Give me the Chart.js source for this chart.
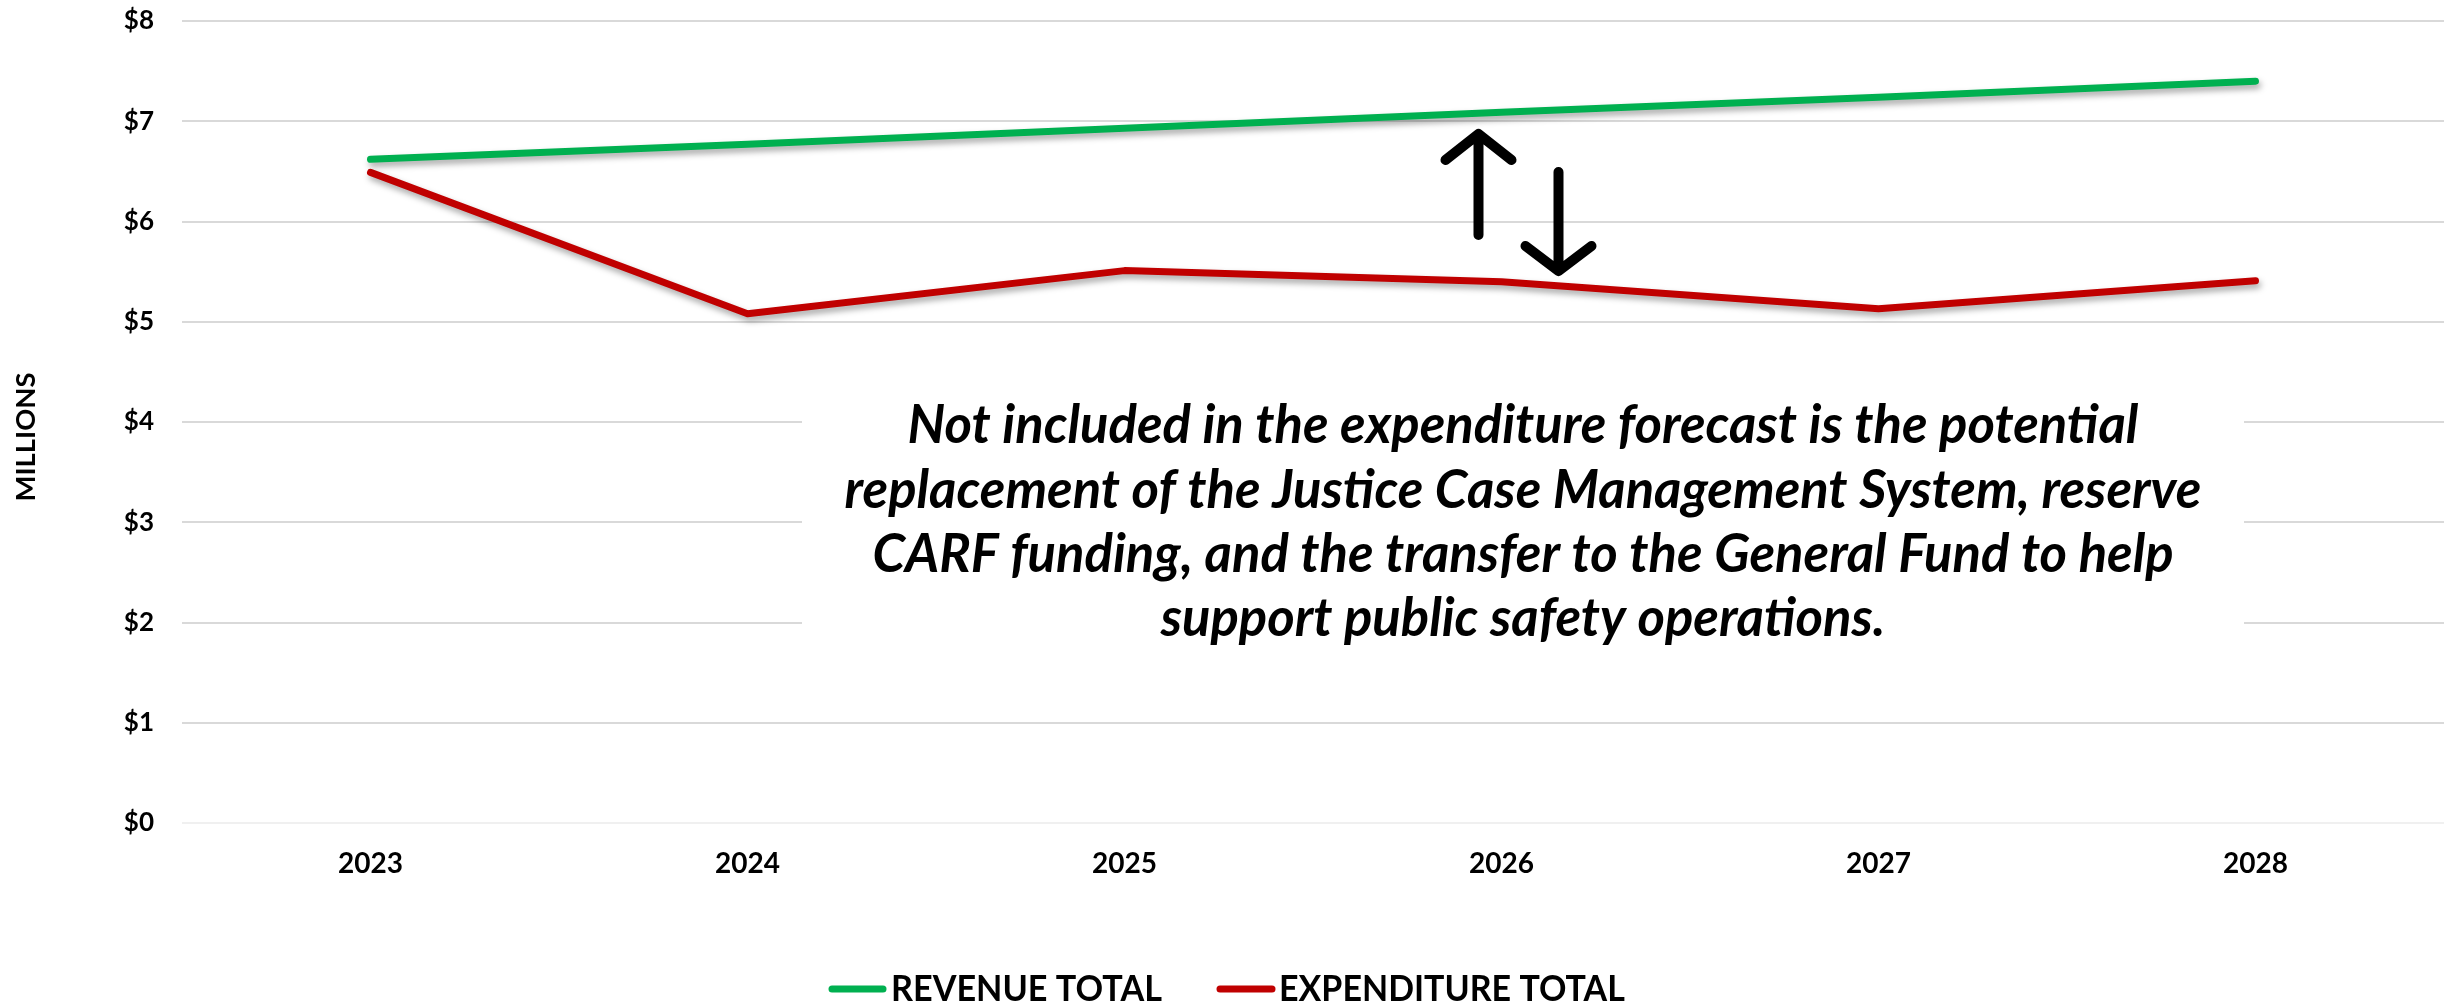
<!DOCTYPE html>
<html>
<head>
<meta charset="utf-8">
<script src="https://cdn.jsdelivr.net/npm/chart.js@4/dist/chart.umd.min.js"></script>
<style>
	html, body { margin: 0; padding: 0; background: #fff; }
	#wrap { width: 2451px; height: 1003px; position: relative; }
</style>
</head>
<body>
<div id="wrap"><canvas id="chartCanvas"></canvas></div>
<script>
var years = ['2023', '2024', '2025', '2026', '2027', '2028'];
var revenue = [6.62, 6.77, 6.93, 7.09, 7.24, 7.40];
var expenditure = [6.49, 5.08, 5.51, 5.40, 5.13, 5.41];
var yTicks = [0, 1, 2, 3, 4, 5, 6, 7, 8];
var seriesNames = ['REVENUE TOTAL', 'EXPENDITURE TOTAL'];
var axisTitle = 'MILLIONS';
var noteLines = [
	'Not included in the expenditure forecast is the potential',
	'replacement of the Justice Case Management System, reserve',
	'CARF funding, and the transfer to the General Fund to help',
	'support public safety operations.'
];

var GREEN = '#00B050';
var RED = '#C00000';
var FONT = 'Lato, "Open Sans", sans-serif';

// fit a string to a width, return font size
function fitSize(ctx, text, weight, width) {
	ctx.font = weight + ' 100px ' + FONT;
	return 100 * width / ctx.measureText(text).width;
}

var lineShadow = {
	id: 'lineShadow',
	beforeDatasetsDraw: function(chart) {
		var ctx = chart.ctx;
		ctx.save();
		ctx.shadowColor = 'rgba(0,0,0,0.35)';
		ctx.shadowBlur = 6;
		ctx.shadowOffsetX = 2;
		ctx.shadowOffsetY = 4;
	},
	afterDatasetsDraw: function(chart) {
		chart.ctx.restore();
	}
};

var extras = {
	id: 'extras',
	afterDraw: function(chart) {
		var ctx = chart.ctx;
		var x = chart.scales.x;

		// note box
		ctx.save();
		ctx.fillStyle = '#fff';
		ctx.fillRect(802, 392, 1442, 262);
		var s = fitSize(ctx, noteLines[0], 'italic bold', 1231);
		ctx.font = 'italic bold ' + s + 'px ' + FONT;
		ctx.fillStyle = '#000';
		ctx.textAlign = 'center';
		ctx.textBaseline = 'alphabetic';
		var baselines = [443, 508, 572, 636];
		for (var i = 0; i < noteLines.length; i++) {
			ctx.fillText(noteLines[i], 1523, baselines[i]);
		}
		ctx.restore();

		// arrows near 2026
		var cx = x.getPixelForValue(3);
		ctx.save();
		ctx.strokeStyle = '#000';
		ctx.lineWidth = 10;
		ctx.lineCap = 'round';
		ctx.lineJoin = 'round';
		var ux = cx - 23, dx = cx + 57;
		ctx.beginPath();
		ctx.moveTo(ux, 235); ctx.lineTo(ux, 134);
		ctx.moveTo(ux - 33, 160); ctx.lineTo(ux, 134); ctx.lineTo(ux + 33, 160);
		ctx.moveTo(dx, 172); ctx.lineTo(dx, 271);
		ctx.moveTo(dx - 33, 246); ctx.lineTo(dx, 271); ctx.lineTo(dx + 33, 246);
		ctx.stroke();
		ctx.restore();

		// y axis title
		ctx.save();
		var ts = fitSize(ctx, axisTitle, 'bold', 129);
		ctx.font = 'bold ' + ts + 'px ' + FONT;
		ctx.fillStyle = '#000';
		ctx.translate(26, 437);
		ctx.rotate(-Math.PI / 2);
		ctx.textAlign = 'center';
		ctx.textBaseline = 'middle';
		ctx.fillText(axisTitle, 0, 0);
		ctx.restore();

		// legend
		var items = [
			{ ds: chart.data.datasets[0], x0: 829, x1: 886, tx: 891, tw: 271 },
			{ ds: chart.data.datasets[1], x0: 1217, x1: 1275, tx: 1279, tw: 346 }
		];
		items.forEach(function(it) {
			ctx.save();
			ctx.strokeStyle = it.ds.borderColor;
			ctx.lineWidth = 7;
			ctx.lineCap = 'round';
			ctx.beginPath();
			ctx.moveTo(it.x0 + 3, 989);
			ctx.lineTo(it.x1 - 3, 989);
			ctx.stroke();
			var ls = fitSize(ctx, it.ds.label, 'bold', it.tw);
			ctx.font = 'bold ' + ls + 'px ' + FONT;
			ctx.fillStyle = '#000';
			ctx.textBaseline = 'alphabetic';
			ctx.translate(it.tx, 1001);
			ctx.scale(1, 26 / (0.72 * ls));
			ctx.fillText(it.ds.label, 0, 0);
			ctx.restore();
		});
	}
};

var ctx = document.getElementById('chartCanvas');
var lineGraph = new Chart(ctx, {
	type: 'line',
	data: {
		labels: years,
		datasets: [
			{
				label: seriesNames[0],
				data: revenue,
				borderColor: GREEN,
				backgroundColor: GREEN,
				borderWidth: 7,
				borderCapStyle: 'round',
				borderJoinStyle: 'round',
				pointRadius: 0,
				lineTension: 0,
				fill: false
			},
			{
				label: seriesNames[1],
				data: expenditure,
				borderColor: RED,
				backgroundColor: RED,
				borderWidth: 7,
				borderCapStyle: 'round',
				borderJoinStyle: 'round',
				pointRadius: 0,
				lineTension: 0,
				fill: false
			}
		]
	},
	options: {
		responsive: true,
		maintainAspectRatio: false,
		animation: false,
		events: [],
		layout: { padding: { top: 21, right: 7, bottom: 0, left: 0 } },
		plugins: {
			legend: { display: false },
			tooltip: { enabled: false }
		},
		scales: {
			x: {
				offset: true,
				grid: { display: false, drawTicks: false },
				border: { display: false },
				ticks: {
					padding: 24,
					color: '#000',
					font: { family: FONT, weight: 'bold', size: 28 }
				},
				afterFit: function(scale) { scale.height = 180; }
			},
			y: {
				min: 0,
				max: 8,
				afterBuildTicks: function(scale) {
					scale.ticks = yTicks.map(function(v) { return { value: v }; });
				},
				grid: {
					drawTicks: false,
					lineWidth: 2,
					color: function(c) { return c.tick && c.tick.value === 0 ? '#f0f0f0' : '#d9d9d9'; }
				},
				border: { display: false },
				ticks: {
					padding: 28,
					color: '#000',
					font: { family: FONT, weight: 'bold', size: 26 },
					callback: function(v) { return '$' + v; }
				},
				afterFit: function(scale) {
					scale.width = 182;
					// tick padding would otherwise push the plot top down
					scale.paddingTop = 0;
					scale.paddingBottom = 0;
				}
			}
		}
	},
	plugins: [lineShadow, extras]
});
</script>
</body>
</html>
